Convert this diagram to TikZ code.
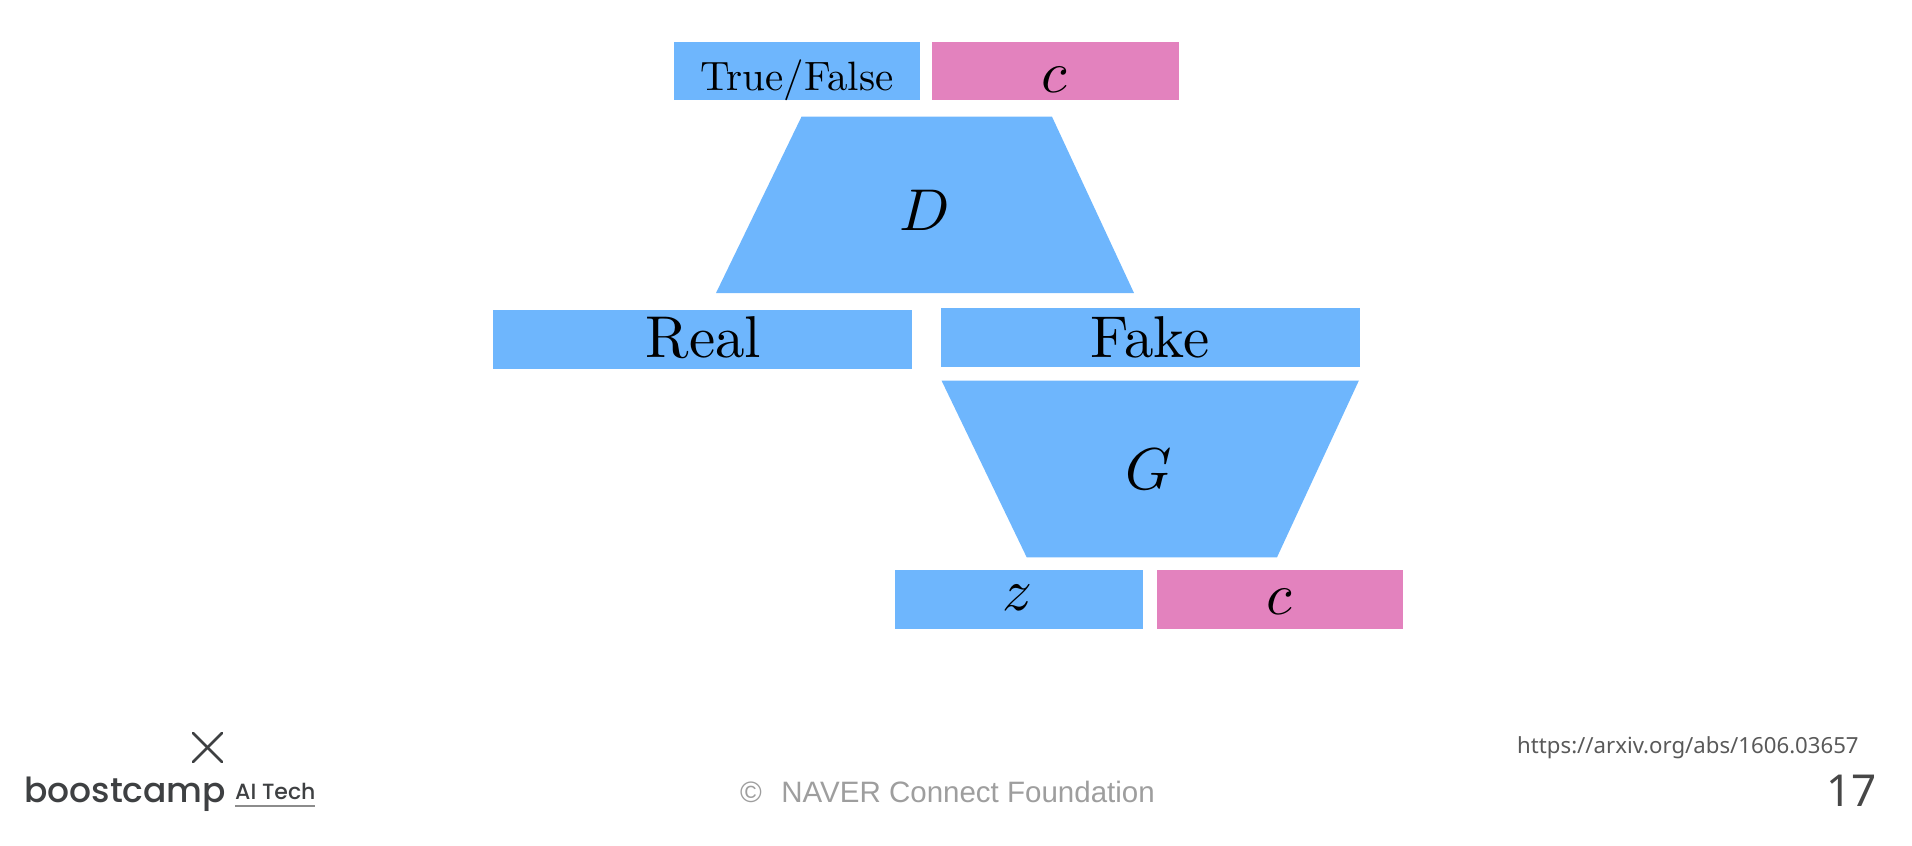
\documentclass[tikz,border=0pt]{standalone}
\usepackage{fix-cm}
\usepackage{fontspec}
\usepackage{xcolor}
\DeclareFontShape{OML}{cmm}{m}{it}{<->cmmi10}{}
\newfontfamily\romanfont{lmroman10-regular}[Extension=.otf]
\newfontfamily\footfont{Liberation Sans}
\newfontfamily\logofont{Poppins Medium}
\newfontfamily\linkfont{Noto Sans}
\definecolor{ganblue}{RGB}{110,182,253}
\definecolor{ganpink}{RGB}{227,130,190}
\definecolor{logogray}{RGB}{62,64,66}
\tikzset{
    box/.style={rectangle, inner sep=0pt, minimum height=58.5pt},
    bigtext/.style={anchor=base, inner sep=0pt, font=\romanfont\fontsize{59}{59}\selectfont},
    foot/.style={anchor=base west, inner sep=0pt}
}

\begin{document}
\begin{tikzpicture}[x=1pt, y=-1pt]
\useasboundingbox (0,0) rectangle (1912,846);

% Boxes of the two rows
\node[box, fill=ganblue, minimum width=246pt] (truebox) at (797,71) {};
\node[box, fill=ganpink, minimum width=246.5pt] (condtop) at (1055.25,71) {};
\node[box, fill=ganblue, minimum width=419pt] (realbox) at (702.5,339.5) {};
\node[box, fill=ganblue, minimum width=419pt] (fakebox) at (1150,337.6) {};
\node[box, fill=ganblue, minimum width=247.5pt] (zbox) at (1019.2,599.5) {};
\node[box, fill=ganpink, minimum width=246pt] (condbot) at (1280,599.5) {};

% Discriminator and generator
\fill[ganblue] (801.5,116.7) -- (1052,116.7) -- (1134,293) -- (716,293) -- cycle;
\fill[ganblue] (941.6,380.7) -- (1358.8,380.7) -- (1277,557.3) -- (1026.7,557.3) -- cycle;

% Labels
\node[anchor=base, inner sep=0pt, font=\romanfont\fontsize{41}{41}\selectfont] (truetext) at (797,90) {True/False};
\node[bigtext] (condtoptext) at (1054,92.7) {$c$};
\node[bigtext] (dtext) at (925,230) {$D$};
\node[bigtext] (realtext) at (703.5,357.7) {Real};
\node[bigtext] (faketext) at (1150,357.7) {Fake};
\node[bigtext] (gtext) at (1149,489) {$G$};
\node[bigtext] (ztext) at (1018,610.7) {$z$};
\node[bigtext] (condbottext) at (1279,614) {$c$};

% Footer
\coordinate (xa) at (193,733);
\coordinate (xb) at (222,762);
\coordinate (xc) at (222,733);
\coordinate (xd) at (193,762);
\draw[logogray, line width=2.6pt, line cap=round] (xa) -- (xb);
\draw[logogray, line width=2.6pt, line cap=round] (xc) -- (xd);
\node[foot, text=logogray, font=\logofont\fontsize{34.5}{34.5}\selectfont] (camp) at (24,802) {boostcamp};
\node[foot, text=logogray, font=\logofont\fontsize{22}{22}\selectfont] (aitech) at (235,799) {AI Tech};
\coordinate (ula) at (235,805.7);
\coordinate (ulb) at (315,805.7);
\draw[black!45, line width=2.4pt] (ula) -- (ulb);
\node[foot, text=black!38, font=\footfont\fontsize{29.5}{29.5}\selectfont] (naver) at (740,802) {©\hspace{19.5pt}NAVER Connect Foundation};
\node[foot, text=black!65, font=\linkfont\fontsize{22.2}{22.2}\selectfont] (link) at (1517,753) {https://arxiv.org/abs/1606.03657};
\node[foot, text=black!72, font=\linkfont\fontsize{44}{44}\selectfont] (page) at (1826,806.7) {17};
\end{tikzpicture}
\end{document}
